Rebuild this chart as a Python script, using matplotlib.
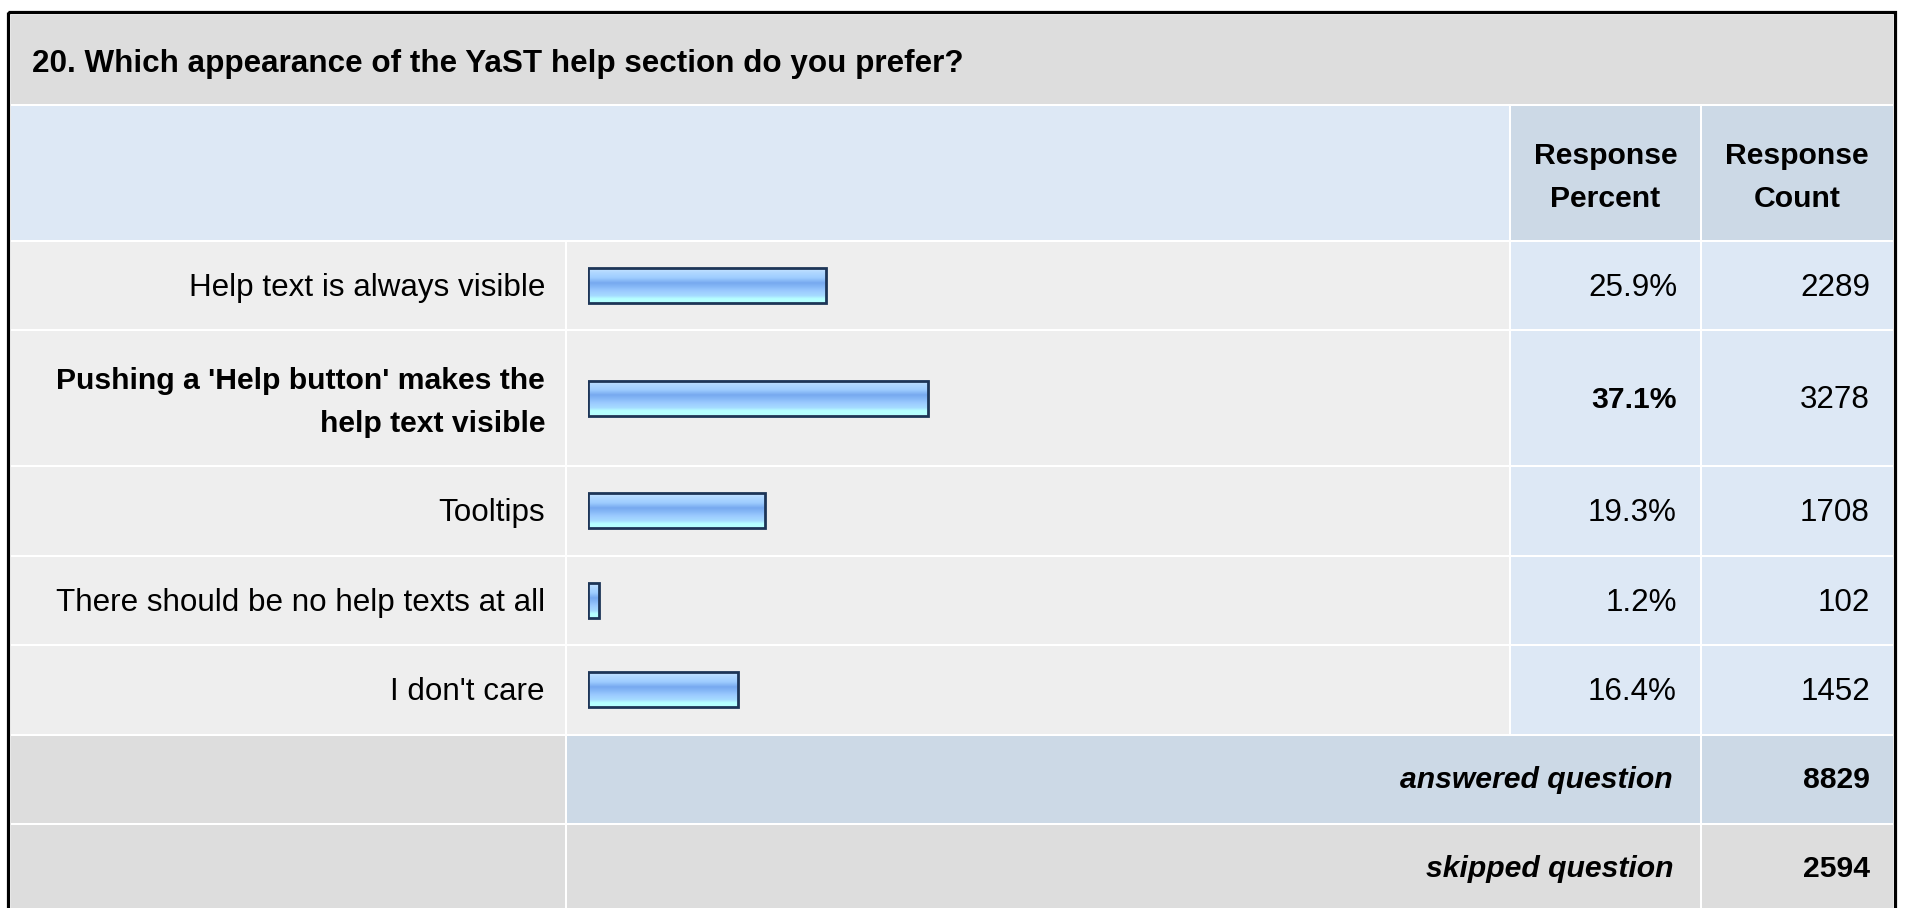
import numpy as np
import matplotlib
matplotlib.use('Agg')
import matplotlib.pyplot as plt
from matplotlib.patches import Rectangle
from matplotlib.colors import LinearSegmentedColormap

plt.rcParams['font.family'] = ['Liberation Sans', 'DejaVu Sans']

# survey data
question = "20. Which appearance of the YaST help section do you prefer?"
answers = ["Help text is always visible",
           "Pushing a 'Help button' makes the\nhelp text visible",
           "Tooltips",
           "There should be no help texts at all",
           "I don't care"]
percents = [25.9, 37.1, 19.3, 1.2, 16.4]
counts = [2289, 3278, 1708, 102, 1452]
answered = 8829
skipped = 2594

W, H = 1907, 908
FS = 22.6    # regular text
BFS = 21.7   # bold text in the table

fig = plt.figure(figsize=(W / 100, H / 100), dpi=100, facecolor='white')
ax = fig.add_axes([0, 0, 1, 1])
ax.set_xlim(0, W)
ax.set_ylim(H, 0)
ax.axis('off')

# column edges (pixels)
L, C1, C2, C3, R = 10, 566, 1510, 1701, 1893

def cell(x0, x1, y0, y1, color):
    ax.add_patch(Rectangle((x0 + 1, y0 + 1), x1 - x0 - 2, y1 - y0 - 2,
                           facecolor=color, edgecolor='none', zorder=1))

def txt(x, y, s, ha='right', weight='normal', style='normal'):
    ax.text(x, y, s, ha=ha, va='baseline',
            fontsize=BFS if weight == 'bold' else FS, fontweight=weight,
            fontstyle=style, color='black', zorder=5)

def lines(x, cy, s, weight='normal', ha='right'):
    parts = s.split('\n')
    if len(parts) == 1:
        txt(x, cy + 10.5, parts[0], ha=ha, weight=weight)
    else:
        txt(x, cy - 9, parts[0], ha=ha, weight=weight)
        txt(x, cy + 34.5, parts[1], ha=ha, weight=weight)

# title band
cell(L, R + 1, 14, 104.5, '#dddddd')
ax.text(32, 72, question, ha='left', va='baseline', fontsize=FS,
        fontweight='bold', zorder=5)

# header
cell(L, C2, 104.5, 240.5, '#dde8f5')
cell(C2, C3, 104.5, 240.5, '#ccd9e6')
cell(C3, R + 1, 104.5, 240.5, '#ccd9e6')
lines((C2 + C3) / 2, 172.5, "Response\nPercent", weight='bold', ha='center')
lines((C3 + R) / 2, 172.5, "Response\nCount", weight='bold', ha='center')

# data rows
top = 240.5
centers = []
best = int(np.argmax(percents))
for i, (lab, p, c) in enumerate(zip(answers, percents, counts)):
    h = 89.5 + 46.5 * lab.count('\n')
    y0, y1 = top, top + h
    cy = (y0 + y1) / 2
    centers.append(cy)
    cell(L, C1, y0, y1, '#eeeeee')
    cell(C1, C2, y0, y1, '#eeeeee')
    cell(C2, C3, y0, y1, '#dde8f5')
    cell(C3, R + 1, y0, y1, '#dde8f5')
    wt = 'bold' if i == best else 'normal'
    lines(545, cy, lab, weight=wt)
    txt(1677, cy + 10.5, f"{p:.1f}%", weight=wt)
    txt(1870, cy + 10.5, str(c))
    top = y1

# footer rows
y0, y1 = top, top + 89
cell(L, C1, y0, y1, '#dddddd')
cell(C1, C3, y0, y1, '#ccd9e6')
cell(C3, R + 1, y0, y1, '#ccd9e6')
cy = (y0 + y1) / 2
txt(1673, cy + 9, "answered question", weight='bold', style='italic')
txt(1870, cy + 9, str(answered), weight='bold')

y0, y1 = y1, y1 + 89
cell(L, C1, y0, y1, '#dddddd')
cell(C1, C3, y0, y1, '#dddddd')
cell(C3, R + 1, y0, y1, '#dddddd')
cy = (y0 + y1) / 2
txt(1673, cy + 9, "skipped question", weight='bold', style='italic')
txt(1870, cy + 9, str(skipped), weight='bold')

# outer frame
ax.add_patch(Rectangle((8, 12), 1894.5 - 8, 1000, facecolor='none',
                       edgecolor='black', lw=2.3, zorder=6))

# bars on their own axes, x in percent
bx0, bx1 = 588, 1505
bax = fig.add_axes([bx0 / W, 0, (bx1 - bx0) / W, 1])
bax.set_xlim(0, 100)
bax.set_ylim(H, 0)
bax.axis('off')
bax.patch.set_alpha(0)

grad = LinearSegmentedColormap.from_list('bar', [
    (0.00, '#c8e4ff'), (0.12, '#b0d8ff'), (0.28, '#9dccff'),
    (0.42, '#77a9ef'), (0.52, '#84b6f6'), (0.66, '#9ccbff'),
    (0.80, '#a6dcff'), (0.88, '#b6ffff'), (1.00, '#b6ffff')])
gimg = np.linspace(0, 1, 64).reshape(-1, 1)
bh = 35
for cy, p in zip(centers, percents):
    bax.imshow(gimg, cmap=grad, aspect='auto', interpolation='bilinear',
               extent=[0, p, cy + bh / 2, cy - bh / 2], zorder=2)
bax.barh(centers, percents, height=bh, left=0, facecolor='none',
         edgecolor='#1d3557', linewidth=2.0, zorder=3)
bax.set_xlim(0, 100)
bax.set_ylim(H, 0)

fig.savefig('out.png', dpi=100, facecolor='white')
